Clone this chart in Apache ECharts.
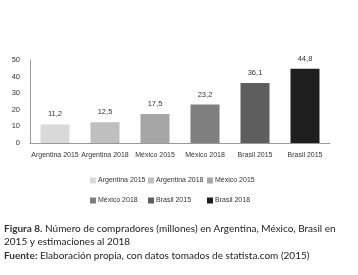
<!DOCTYPE html>
<html>
<head>
<meta charset="utf-8">
<script src="https://cdn.jsdelivr.net/npm/echarts@6/dist/echarts.min.js"></script>
<style>html,body{margin:0;padding:0;background:#fff}#c{width:358px;height:275px}</style>
</head>
<body>
<div id="c"></div>
<script>
const categories = ['Argentina 2015', 'Argentina 2018', 'México 2015', 'México 2018', 'Brasil 2015', 'Brasil 2015'];
const seriesNames = ['Argentina 2015', 'Argentina 2018', 'México 2015', 'México 2018', 'Brasil 2015', 'Brasil 2018'];
const values = [11.2, 12.5, 17.5, 23.2, 36.1, 44.8];
const yTicks = [0, 10, 20, 30, 40, 50];
const colors = ['#d9d9d9', '#bfbfbf', '#a6a6a6', '#7f7f7f', '#5e5e5e', '#1e1e1e'];

const narrow = '"Liberation Sans Narrow", "Arial Narrow", "Liberation Sans", sans-serif';
const chart = echarts.init(document.getElementById('c'), null, {renderer: 'canvas'});

const series = seriesNames.map((name, i) => ({
  name: name,
  type: 'bar',
  stack: 'all',
  barWidth: 29,
  itemStyle: {color: colors[i]},
  label: {
    show: true, position: 'top', distance: 6,
    fontFamily: narrow, fontSize: 7.5, color: '#333',
    formatter: p => String(p.value).replace('.', ',')
  },
  data: categories.map((c, j) => j === i ? values[i] : '-')
}));

const legendCols = [90, 148, 207];
const legendRows = [177, 197];
const legends = seriesNames.map((name, i) => ({
  left: legendCols[i % 3], top: legendRows[Math.floor(i / 3)],
  itemWidth: 6, itemHeight: 6, icon: 'rect', padding: 0, selectedMode: false,
  textStyle: {fontFamily: narrow, fontSize: 7, color: '#333', padding: [0, 0, 0, -3]},
  data: [name]
}));

chart.setOption({
  animation: false,
  grid: {left: 30, right: 28, top: 60, bottom: 132, containLabel: false},
  xAxis: {
    type: 'category', data: categories,
    axisLine: {lineStyle: {color: '#999', width: 1}},
    axisTick: {show: false},
    axisLabel: {fontFamily: narrow, fontSize: 7, color: '#333', margin: 9, interval: 0}
  },
  yAxis: {
    type: 'value', min: yTicks[0], max: yTicks[yTicks.length - 1], interval: 10,
    axisLine: {show: true, lineStyle: {color: '#999', width: 1}},
    axisTick: {show: false},
    splitLine: {show: false},
    axisLabel: {fontFamily: narrow, fontSize: 7.5, color: '#333', margin: 10}
  },
  legend: legends,
  graphic: [
    {type: 'text', left: 4, top: 224, style: {
      text: '{b|Figura 8.} Número de compradores (millones) en Argentina, México, Brasil en',
      font: '10px Lato, "Open Sans", sans-serif', fill: '#222',
      rich: {b: {fontFamily: 'Lato', fontSize: 10, fontWeight: 'bold', fill: '#333'}}
    }},
    {type: 'text', left: 4, top: 237, style: {text: '2015 y estimaciones al 2018', font: '10px Lato, "Open Sans", sans-serif', fill: '#222'}},
    {type: 'text', left: 4, top: 251, style: {
      text: '{b|Fuente:} Elaboración propia, con datos tomados de statista.com (2015)',
      font: '10px Lato, "Open Sans", sans-serif', fill: '#222',
      rich: {b: {fontFamily: 'Lato', fontSize: 10, fontWeight: 'bold', fill: '#333'}}
    }}
  ],
  series: series
});
</script>
</body>
</html>
